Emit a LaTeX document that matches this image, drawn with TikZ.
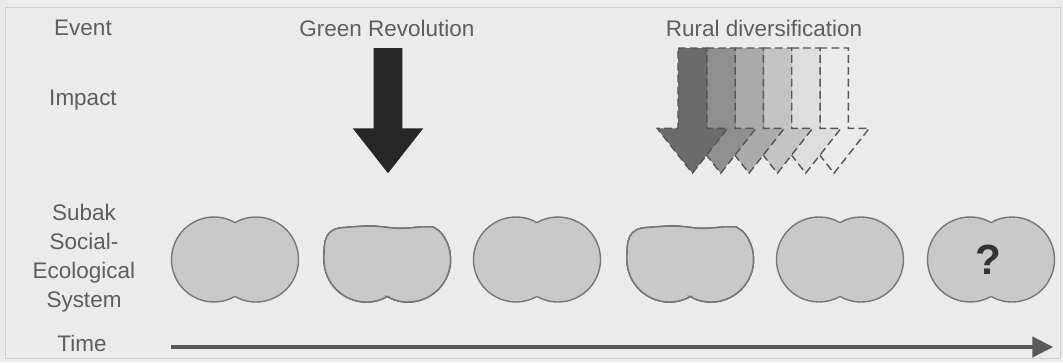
\documentclass[tikz,border=0pt]{standalone}
\usepackage{fontspec}
\setmainfont{Liberation Sans}
\usetikzlibrary{arrows.meta}
\definecolor{paper}{HTML}{EBEBEB}
\definecolor{frameline}{HTML}{D0D0D0}
\definecolor{labelgrey}{HTML}{5E5E5E}
\definecolor{blobfill}{HTML}{C9C9C9}
\definecolor{blobline}{HTML}{777777}
\definecolor{dashline}{HTML}{555555}
\tikzset{
  rowlabel/.style={text=labelgrey,font=\fontsize{16}{20.6}\selectfont,align=center},
  blob/.style={draw=blobline,fill=blobfill,line width=1pt},
  shock/.style={fill=black!85,draw=none},
  fading shock/.style={draw=dashline,line width=1pt,dash pattern=on 5.5pt off 3pt},
  timeline/.style={draw=black!65,line width=2.8pt,-{Triangle[length=5.2mm,width=5mm]}}
}
% two overlapping discs
\newcommand{\subakblob}[2]{\draw[blob,shift={(#1,#2)}] (0,0.9237) arc[start angle=60.4,end angle=299.6,radius=1.0625] arc[start angle=240.4,end angle=479.6,radius=1.0625] -- cycle;}
% same, top flattened and clipped
\newcommand{\changedblob}[2]{\draw[blob,shift={(#1,#2)}] (0,-0.9237) arc[start angle=240.4,end angle=395,radius=1.0625] .. controls (1.33,0.7) .. (1.15,0.8125) .. controls (0.75,0.84) and (0.5,0.74) .. (0.1,0.79) .. controls (-0.4,0.85) .. (-1.05,0.8) .. controls (-1.55,0.78) and (-1.575,0.5) .. (-1.575,0) arc[start angle=180,end angle=299.6,radius=1.0625] -- cycle;}
\newcommand{\impactarrow}[2]{\draw[#2] ({#1-0.36},7.85) -- ({#1+0.36},7.85) -- ({#1+0.36},5.84) -- ({#1+0.88},5.84) -- (#1,4.72) -- ({#1-0.88},5.84) -- ({#1-0.36},5.84) -- cycle;}

\begin{document}
\begin{tikzpicture}
  \useasboundingbox[fill=paper] (0,0) rectangle (26.575,9.05);
  \draw[frameline,line width=0.6pt] (0.125,0.1) rectangle (26.5,8.875);
  % row labels
  \node[rowlabel] (event) at (2.075,8.35) {Event};
  \node[rowlabel] (impact) at (2.075,6.55) {Impact};
  \node[rowlabel] (sys) at (2.1,2.6) {Subak\\Social-\\Ecological\\System};
  \node[rowlabel] (time) at (2.05,0.475) {Time};
  % events
  \node[rowlabel] (green) at (9.675,8.33) {Green Revolution};
  \node[rowlabel] (rural) at (19.1,8.35) {Rural diversification};
  \impactarrow{9.7}{shock}
  \foreach \k/\c in {5/8,4/13,3/23,2/33,1/44,0/58}
    \impactarrow{17.31+0.708*\k}{fading shock,fill=black!\c};
  % the system through time
  \foreach \x in {5.875,13.425,21.0,24.775}
    \subakblob{\x}{2.5625}
  \changedblob{9.675}{2.5625}
  \changedblob{17.25}{2.5625}
  \node[text=black!80,font=\fontsize{30}{30}\selectfont\bfseries] (unknown) at (24.7,2.55) {?};
  \coordinate (t0) at (4.275,0.375);
  \coordinate (t1) at (26.33,0.375);
  \draw[timeline] (t0) -- (t1);
\end{tikzpicture}
\end{document}
